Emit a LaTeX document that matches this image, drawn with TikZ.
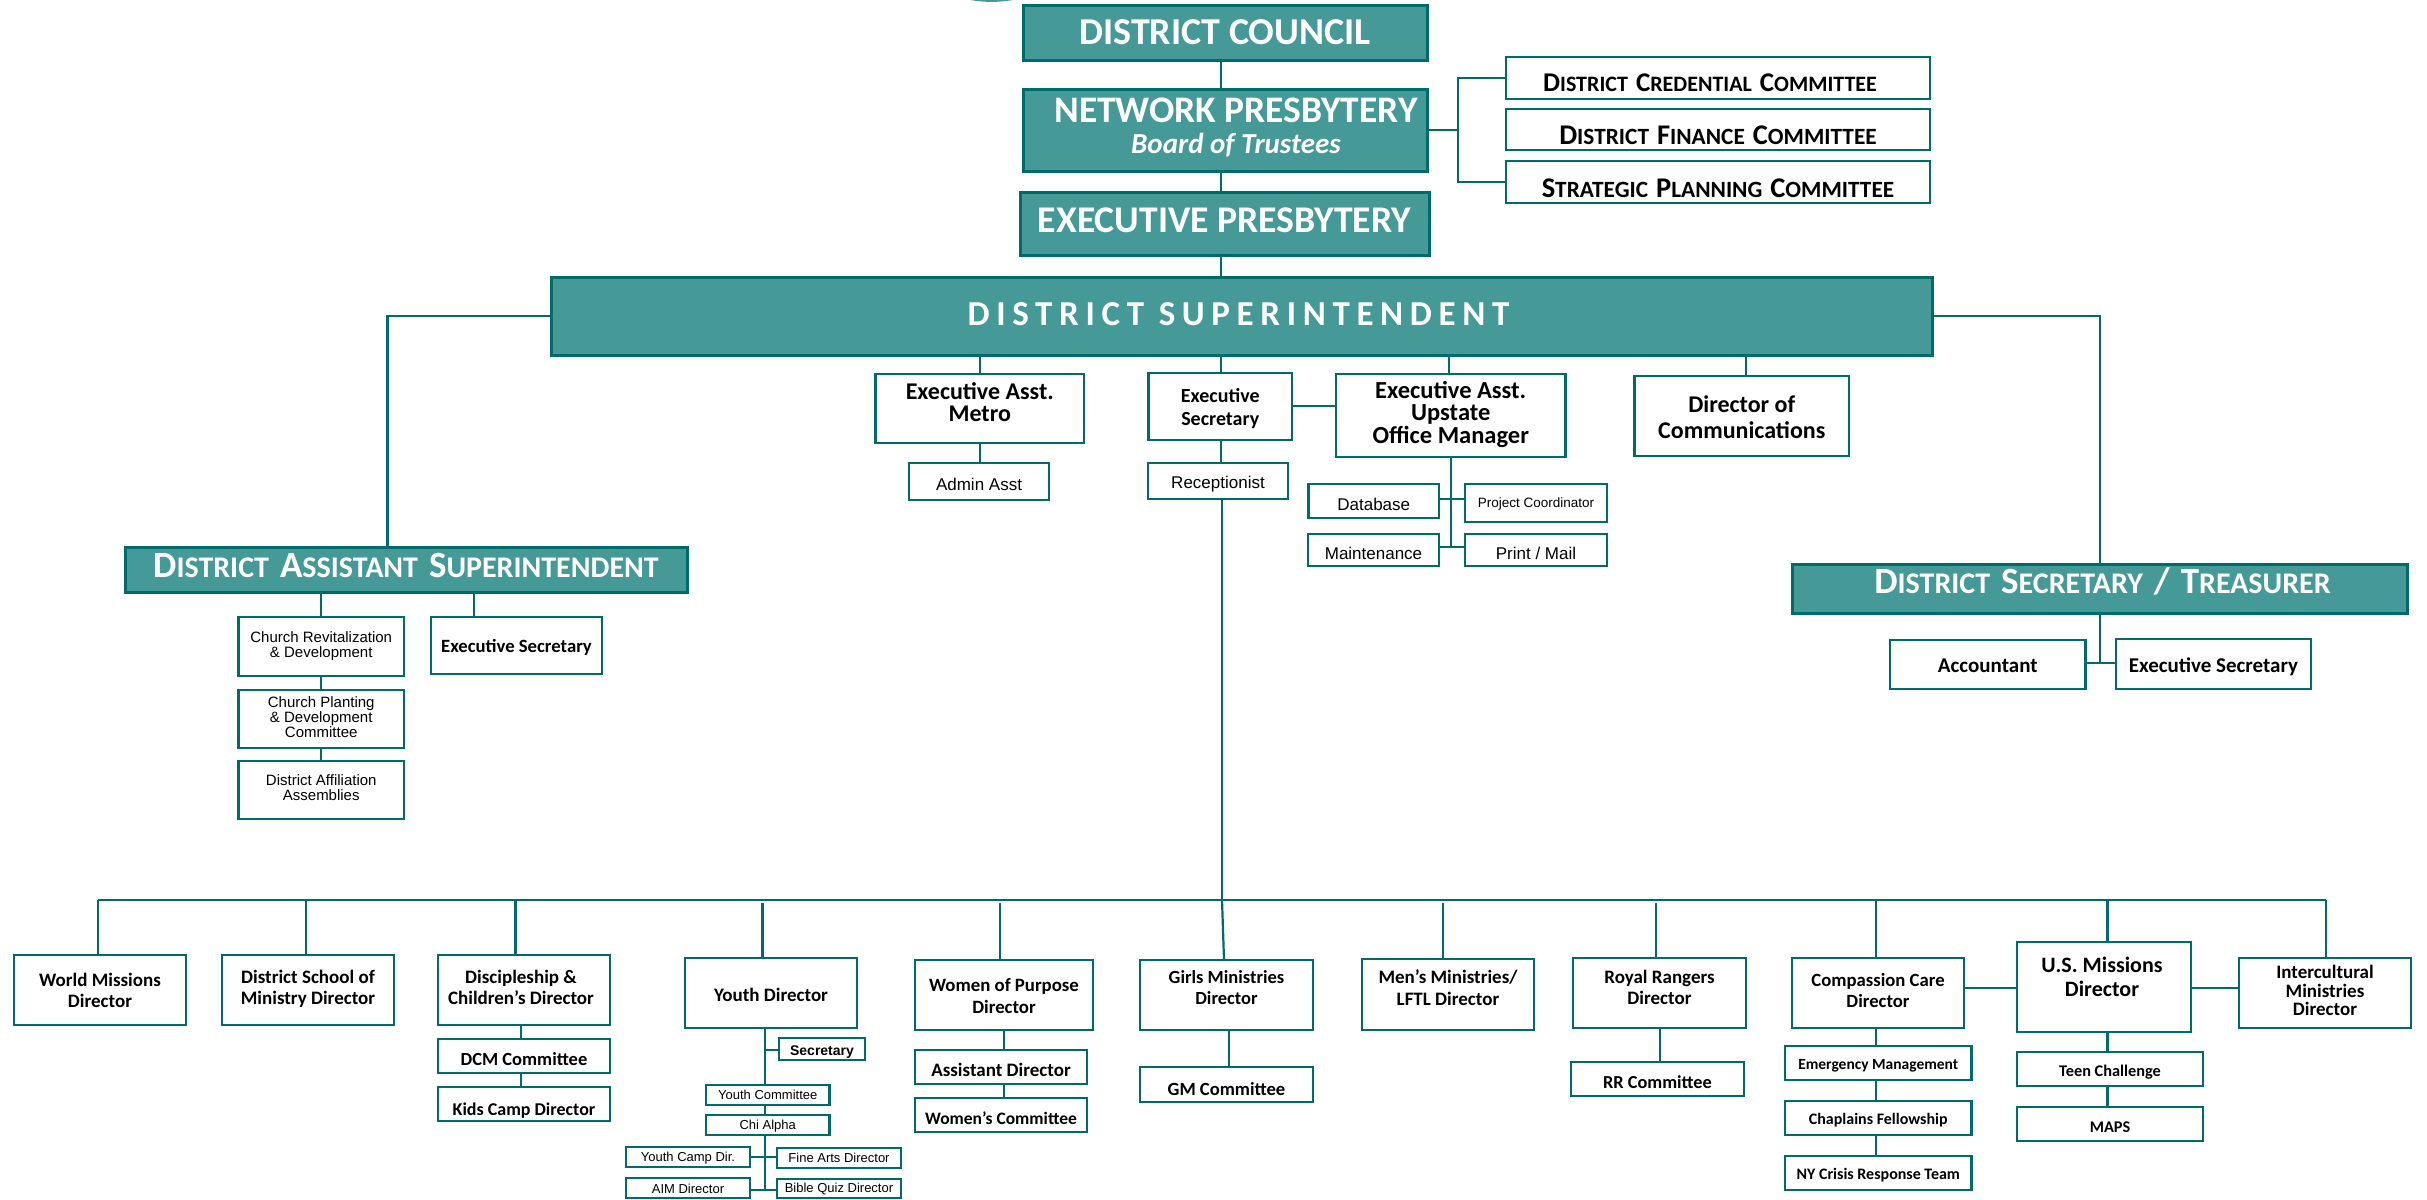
\documentclass[tikz,border=0pt]{standalone}
\usepackage{fontspec}
\setmainfont{Carlito}
\newfontfamily\arialf{Liberation Sans}
\usetikzlibrary{backgrounds}
\definecolor{tealfill}{HTML}{459A98}
\definecolor{tealline}{HTML}{006B6B}
\newcommand{\fs}[2]{\fontsize{#1}{#2}\selectfont}
\newcommand{\tl}[1]{\begin{tabular}{@{}c@{}}#1\end{tabular}}
% small capitals: big size, small size, first letter, rest
\newcommand{\scw}[4]{{\fontsize{#1}{#1}\selectfont #3}{\fontsize{#2}{#1}\selectfont #4}}
\newcommand{\scA}[2]{\scw{27}{22}{#1}{#2}}
\newcommand{\scC}[2]{\scw{28.5}{23.3}{#1}{#2}}
\newcommand{\scB}[2]{\scw{37}{30}{#1}{#2}}
\newcommand{\gapA}{\hspace{8pt}}
\newcommand{\gapB}{\hspace{11pt}}
% style, name, x1,y1,x2,y2, dx,dy, content
\newcommand{\bx}[9][wbox]{%
  \node[#1,minimum width={(#5-#3)*1pt},minimum height={(#6-#4)*1pt}] (#2) at ({(#3+#5)/2},{(#4+#6)/2})
    {\mbox{\kern#7pt\raisebox{#8pt}[\height][\depth]{#9}\kern-#7pt}};}
\newcommand{\vl}[3]{\draw[conn] (#1,0 |- #2.south) -- (#1,0 |- #3.north);}
\tikzset{
  wbox/.style={draw=tealline,fill=white,line width=2.8pt,inner sep=0pt,outer sep=0pt,text=black,font=\bfseries},
  abox/.style={wbox,font=\arialf},
  hbox/.style={draw=tealline,fill=tealfill,line width=3pt,inner sep=0pt,outer sep=0pt,text=white,font=\bfseries},
  conn/.style={draw=tealline,line width=2.2pt},
}
\begin{document}
\begin{tikzpicture}[x=1pt,y=-1pt]
\useasboundingbox (0,0) rectangle (2427,1199);
% headings
\bx[hbox]{dc}{1023}{6}{1427}{61}{0}{1.5}{\fs{38}{40}DISTRICT COUNCIL}
\bx[hbox]{np}{1023}{89}{1427}{171}{11}{0}{\fs{37.5}{31}\tl{NETWORK PRESBYTERY\\{\itshape\fs{29}{25}Board of Trustees}}}
\bx[hbox]{ep}{1020}{192}{1429}{255}{0}{3}{\fs{37.7}{40}EXECUTIVE PRESBYTERY}
\bx[hbox]{ds}{551}{277}{1932}{355}{-3}{1.5}{\fs{35}{36}\addfontfeatures{LetterSpace=19}DISTRICT SUPERINTENDENT}
\bx[hbox]{das}{125}{547}{687}{592}{0}{4}{\scB{D}{ISTRICT}\gapB\scB{A}{SSISTANT}\gapB\scB{S}{UPERINTENDENT}}
\bx[hbox]{dst}{1792}{564}{2407}{613}{3}{7.5}{\scB{D}{ISTRICT}\gapB\scB{S}{ECRETARY}\gapB\scB{/}{}\gapB\scB{T}{REASURER}}
% committees
\bx{c1}{1506}{57}{1930}{99}{-8}{-4.5}{\scA{D}{ISTRICT}\gapA\scA{C}{REDENTIAL}\gapA\scA{C}{OMMITTEE}}
\bx{c2}{1506}{109}{1930}{150}{0}{-6}{\scC{D}{ISTRICT}\gapA\scC{F}{INANCE}\gapA\scC{C}{OMMITTEE}}
\bx{c3}{1506}{161}{1930}{203}{0}{-6}{\scC{S}{TRATEGIC}\gapA\scC{P}{LANNING}\gapA\scC{C}{OMMITTEE}}
% staff row
\bx{eam}{875.5}{374}{1084}{443}{0}{3}{\fs{24}{21.5}\tl{Executive Asst.\\Metro}}
\bx[abox]{aa}{909}{463}{1049}{500}{0}{-3}{\fs{17}{19}Admin Asst}
\bx{es}{1148.5}{373}{1292}{440}{0}{-3}{\fs{20}{23.5}\tl{Executive\\Secretary}}
\bx[abox]{rc}{1148}{463}{1288}{499}{0}{-3}{\fs{17}{19}Receptionist}
\bx{eau}{1336}{374}{1565.5}{457}{0}{0}{\fs{24.5}{20.5}\tl{Executive Asst.\\Upstate\\Office Manager}}
\bx{dcm}{1634.5}{376}{1849}{456}{0}{-4}{\fs{24}{26.5}\tl{Director of\\Communications}}
\bx[abox]{db}{1308.5}{484}{1439}{518}{0}{-3}{\fs{17}{19}Database}
\bx[abox]{pc}{1465}{484}{1607}{522}{0}{-1.5}{\fs{13.5}{15}Project Coordinator}
\bx[abox]{mt}{1308}{534}{1439}{566}{0}{-3}{\fs{17}{19}Maintenance}
\bx[abox]{pm}{1465}{534}{1607}{566}{0}{-3}{\fs{17}{19}Print / Mail}
% assistant branch
\bx[abox]{cr}{238.5}{617}{404}{676}{0}{0}{\fs{15}{13.5}\tl{Church Revitalization\\\& Development}}
\bx[abox]{cp}{238.5}{690}{404}{748}{0}{0}{\fs{15}{13.5}\tl{Church Planting\\\& Development\\Committee}}
\bx[abox]{da}{238.5}{761}{404}{819}{0}{0}{\fs{15}{14}\tl{District Affiliation\\Assemblies}}
\bx{ex1}{431}{617}{602}{674}{0}{-1.5}{\fs{18.7}{22}Executive Secretary}
% treasurer branch
\bx{ac}{1890}{640}{2085.5}{689}{0}{-1.5}{\fs{21}{23}Accountant}
\bx{ex2}{2116}{639}{2311}{689}{0}{-2.5}{\fs{21}{23}Executive Secretary}
% ministries
\bx{wm}{14}{955}{186}{1025}{0}{-3}{\fs{19}{21}\tl{World Missions\\Director}}
\bx{sm}{222}{955}{394}{1025}{0}{0}{\fs{19}{21}\tl{District School of\\Ministry Director}}
\bx{dp}{438}{955}{610}{1025}{-3}{0}{\fs{19}{21}\tl{Discipleship \&\\Children’s Director}}
\bx{dcmc}{438}{1039}{610}{1073}{0}{-3}{\fs{18.5}{22}DCM Committee}
\bx{kc}{438}{1087}{610}{1121}{0}{-6.5}{\fs{18}{22}Kids Camp Director}
\bx{yd}{685}{958}{857}{1028}{0}{-1.5}{\fs{19}{23}Youth Director}
\bx[abox]{sec}{779}{1038}{865}{1060}{0}{-3}{\fs{14}{17}\textbf{Secretary}}
\bx[abox]{yc}{706}{1085}{829.5}{1105}{0}{0}{\fs{13}{15}Youth Committee}
\bx[abox]{ca}{706}{1115}{829.5}{1135}{0}{-1}{\fs{13}{15}Chi Alpha}
\bx[abox]{ycd}{626}{1147}{750}{1167}{0}{-1}{\fs{13}{15}Youth Camp Dir.}
\bx[abox]{fa}{777}{1148}{901}{1168}{0}{0}{\fs{13}{15}Fine Arts Director}
\bx[abox]{aim}{626}{1178}{750}{1198}{0}{-1}{\fs{13}{15}AIM Director}
\bx[abox]{bq}{777}{1179}{901}{1198}{0}{-1}{\fs{13}{15}Bible Quiz Director}
\bx{wp}{915}{960}{1093}{1030}{0}{-3}{\fs{18.8}{22}\tl{Women of Purpose\\Director}}
\bx{ad}{915}{1050}{1087}{1084}{0}{-3}{\fs{19}{22}Assistant Director}
\bx{wc}{915}{1098}{1087}{1132}{0}{-3}{\fs{17.5}{22}Women’s Committee}
\bx{gm}{1140}{960}{1313}{1030}{0}{5}{\fs{18.5}{21}\tl{Girls Ministries\\Director}}
\bx{gc}{1140}{1067}{1313}{1102}{0}{-4.5}{\fs{18.6}{22}GM Committee}
\bx{mm}{1362}{959}{1534}{1030}{0}{4}{\fs{19}{22}\tl{Men’s Ministries/\\LFTL Director}}
\bx{rr}{1573}{958}{1746}{1028}{0}{3}{\fs{19}{21}\tl{Royal Rangers\\Director}}
\bx{rc2}{1571}{1062}{1744}{1096}{0}{-3}{\fs{18.3}{20}RR Committee}
\bx{cc}{1792}{958}{1964}{1028}{0}{0}{\fs{18.7}{21}\tl{Compassion Care\\Director}}
\bx{em}{1785}{1046}{1971.5}{1080}{0}{-3}{\fs{15.5}{19}Emergency Management}
\bx{cf}{1785}{1101}{1971.5}{1135}{0}{-2}{\fs{16}{19}Chaplains Fellowship}
\bx{ny}{1785}{1156}{1971.5}{1190}{0}{-2}{\fs{16}{19}NY Crisis Response Team}
\bx{us}{2017}{942}{2191}{1032}{-2}{7.5}{\fs{22}{24}\tl{U.S. Missions\\Director}}
\bx{tc}{2017}{1052}{2203}{1086}{0}{-3}{\fs{16.3}{18}Teen Challenge}
\bx{mp}{2017}{1107}{2203}{1141}{0}{-3}{\fs{16.3}{18}MAPS}
\bx{ic}{2239}{958}{2411}{1028}{0}{0}{\fs{19}{17.5}\tl{Intercultural\\Ministries\\Director}}
% free points
\coordinate (busl) at (98,900);
\coordinate (busr) at (2326,900);
\coordinate (busm) at (1222,900);
\begin{scope}[on background layer]
% sliver of the emblem above the chart
\fill[tealfill] (970,0) .. controls (985,2.5) and (998,2.5) .. (1013,0) -- cycle;
\vl{1220.6}{dc}{np}
\vl{1220.6}{np}{ep}
\vl{1220.6}{ep}{ds}
\vl{980}{ds}{eam}
\vl{1220.6}{ds}{es}
\vl{1449}{ds}{eau}
\vl{1746}{ds}{dcm}
\vl{980}{eam}{aa}
\vl{1221}{es}{rc}
\draw[conn] (es.east |- 0,406) -- (eau.west |- 0,406);
% committees
\draw[conn] (np.east |- 0,130) -- (1458,130);
\draw[conn] (c1.west) -| (1458,130) |- (c3.west);
% upstate
\draw[conn] (1451,0 |- eau.south) -- (1451,547);
\draw[conn] (db.east |- 0,499) -- (pc.west |- 0,499);
\draw[conn] (mt.east |- 0,547) -- (pm.west |- 0,547);
% superintendent arms
\draw[conn] (ds.west |- 0,316) -| (387.4,0 |- das.north);
\draw[conn] (ds.east |- 0,316) -| (2100,0 |- dst.north);
% assistant
\vl{321}{das}{cr}
\vl{321}{cr}{cp}
\vl{321}{cp}{da}
\vl{474}{das}{ex1}
% treasurer
\draw[conn] (2100,0 |- dst.south) -- (2100,663);
\draw[conn] (ac.east |- 0,663) -- (ex2.west |- 0,663);
% bus
\draw[conn] (1222,0 |- rc.south) -- (busm);
\draw[conn] (busl) -- (busr);
\draw[conn] (busl) -- (98,0 |- wm.north);
\draw[conn] (306,900) -- (306,0 |- sm.north);
\draw[conn] (515.5,900) -- (515.5,0 |- dp.north);
\draw[conn] (762.5,903) -- (762.5,0 |- yd.north);
\draw[conn] (1000,903) -- (1000,0 |- wp.north);
\draw[conn] (busm) -- (1224,0 |- gm.north);
\draw[conn] (1443,903) -- (1443,0 |- mm.north);
\draw[conn] (1656,903) -- (1656,0 |- rr.north);
\draw[conn] (1876,900) -- (1876,0 |- cc.north);
\draw[conn] (2107.5,900) -- (2107.5,0 |- us.north);
\draw[conn] (busr) -- (2326,0 |- ic.north);
% discipleship
\vl{521}{dp}{dcmc}
\vl{521}{dcmc}{kc}
% youth
\draw[conn] (765,0 |- yd.south) -- (765,0 |- yc.north);
\draw[conn] (765,1050) -- (sec.west |- 0,1050);
\vl{765}{yc}{ca}
\draw[conn] (765,0 |- ca.south) -- (765,1190);
\draw[conn] (ycd.east |- 0,1157) -- (fa.west |- 0,1157);
\draw[conn] (aim.east |- 0,1190) -- (bq.west |- 0,1190);
% women
\vl{1004}{wp}{ad}
\vl{1004}{ad}{wc}
\vl{1229}{gm}{gc}
\vl{1660}{rr}{rc2}
% compassion
\vl{1876}{cc}{em}
\vl{1876}{em}{cf}
\vl{1876}{cf}{ny}
\draw[conn] (cc.east |- 0,988) -- (us.west |- 0,988);
\draw[conn] (us.east |- 0,988) -- (ic.west |- 0,988);
\vl{2107.5}{us}{tc}
\vl{2107.5}{tc}{mp}
\end{scope}
\end{tikzpicture}
\end{document}
